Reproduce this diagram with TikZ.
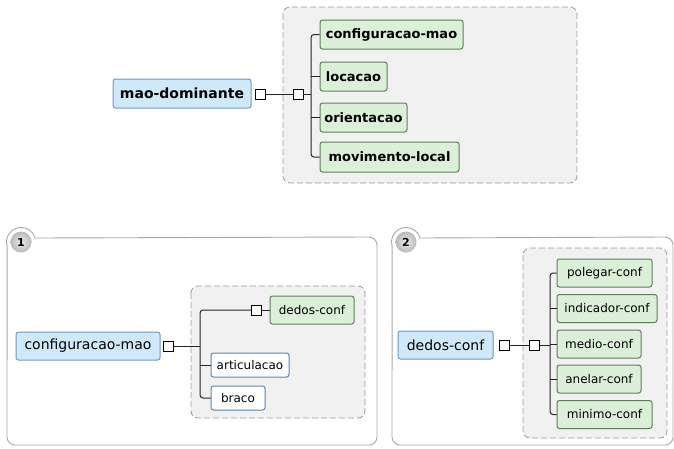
\documentclass[tikz,border=0pt]{standalone}
\usepackage{fontspec}
\setmainfont{DejaVu Sans}
\usetikzlibrary{calc}
\definecolor{rootfill}{HTML}{CFE9FA}
\definecolor{rootdraw}{HTML}{6F99BC}
\definecolor{kidfill}{HTML}{DCEFD8}
\definecolor{kiddraw}{HTML}{5F7F5B}
\definecolor{whdraw}{HTML}{5F86AD}
\definecolor{boxfill}{HTML}{F1F1F1}
\definecolor{boxdraw}{HTML}{9A9A9A}
\definecolor{paneldraw}{HTML}{A8A8A8}
\tikzset{
  base/.style={rounded corners=2.5pt, line width=1pt, inner sep=0pt, anchor=center},
  rootnode/.style={base, fill=rootfill, draw=rootdraw},
  kidnode/.style={base, fill=kidfill, draw=kiddraw},
  whnode/.style={base, fill=white, draw=whdraw},
  topfont/.style={font=\fontsize{14}{16}\selectfont\bfseries},
  topkid/.style={font=\fontsize{13}{15}\selectfont\bfseries},
  botroot/.style={font=\fontsize{14}{16}\selectfont},
  botkid/.style={font=\fontsize{12}{14}\selectfont},
  sq/.style={draw=black, fill=white, line width=0.9pt, minimum size=10pt, inner sep=0pt, anchor=center},
  conn/.style={line width=1pt, draw=black!85},
  groupbox/.style={draw=boxdraw, fill=boxfill, dashed, dash pattern=on 6pt off 3pt, rounded corners=7pt, line width=0.8pt},
  panel/.style={draw=paneldraw, line width=0.9pt},
  badge/.style={circle, minimum size=21pt, inner sep=0pt, shading=radial, inner color=gray!15, outer color=gray!55, font=\fontsize{11}{12}\selectfont\bfseries}
}
\begin{document}
\begin{tikzpicture}[x=1pt,y=1pt]
\useasboundingbox (0,0) rectangle (674,-448);

% ---------------- top ----------------
\draw[groupbox] (283,-7) rectangle (577,-183);
\node[rootnode, topfont, minimum width=138pt, minimum height=29pt] (md) at (182,-93.5) {mao-dominante};
\node[sq] (s1) at (260,-94.5) {};
\node[sq] (s2) at (298,-94.5) {};
\node[kidnode, topkid, minimum width=143pt, minimum height=29pt] (cm) at (391.5,-34.5) {configuracao-mao};
\node[kidnode, topkid, minimum width=67pt, minimum height=29pt] (loc) at (353.5,-76.5) {locacao};
\node[kidnode, topkid, minimum width=87pt, minimum height=29pt] (ori) at (363.5,-117.5) {orientacao};
\node[kidnode, topkid, minimum width=139pt, minimum height=30pt] (mov) at (389.5,-157) {movimento-local};
\coordinate (tb) at (311,-94.5);
\draw[conn] (s1) -- (s2);
\draw[conn] (s2) -- (tb);
\draw[conn, rounded corners=3pt] (cm.west) -| (tb) |- (mov.west);
\draw[conn] (loc.west) -- (loc.west -| tb);
\draw[conn] (ori.west) -- (ori.west -| tb);

% ---------------- panel 1 ----------------
\draw[panel] (35,-238) arc[start angle=16, end angle=196, radius=14.5]
  -- (7,-437) arc[start angle=180, end angle=270, radius=8] -- (369,-445)
  arc[start angle=270, end angle=360, radius=8] -- (377,-245)
  arc[start angle=0, end angle=90, radius=8] -- cycle;
\node[badge] (b1) at (21,-242) {1};
\draw[groupbox] (191,-286) rectangle (365,-418);
\node[rootnode, botroot, minimum width=144pt, minimum height=28pt] (cm2) at (88,-346) {configuracao-mao};
\node[sq] (s3) at (168,-346) {};
\node[sq] (s4) at (256.5,-310) {};
\node[kidnode, botkid, minimum width=84pt, minimum height=28pt] (dc) at (312,-310) {dedos-conf};
\node[whnode, botkid, minimum width=78pt, minimum height=24pt] (art) at (250,-365) {articulacao};
\node[whnode, botkid, minimum width=54pt, minimum height=24pt] (bra) at (238,-398) {braco};
\coordinate (lb) at (200,-346);
\draw[conn] (s3) -- (lb);
\draw[conn, rounded corners=3pt] (s4.west) -| (lb) |- (bra.west);
\draw[conn] (s4) -- (dc);
\draw[conn] (art.west) -- (art.west -| lb);

% ---------------- panel 2 ----------------
\draw[panel] (420,-238) arc[start angle=16, end angle=196, radius=14.5]
  -- (392,-437) arc[start angle=180, end angle=270, radius=8] -- (665,-445)
  arc[start angle=270, end angle=360, radius=8] -- (673,-245)
  arc[start angle=0, end angle=90, radius=8] -- cycle;
\node[badge] (b2) at (406,-242) {2};
\draw[groupbox] (523,-248) rectangle (667,-438);
\node[rootnode, botroot, minimum width=95pt, minimum height=28pt] (dc2) at (445.5,-345) {dedos-conf};
\node[sq] (s5) at (504.5,-345) {};
\node[sq] (s6) at (534.5,-345) {};
\node[kidnode, botkid, minimum width=95pt, minimum height=28pt] (pc) at (604.5,-273) {polegar-conf};
\node[kidnode, botkid, minimum width=100pt, minimum height=28pt] (ic) at (607,-308.5) {indicador-conf};
\node[kidnode, botkid, minimum width=84pt, minimum height=28pt] (mc) at (599,-344) {medio-conf};
\node[kidnode, botkid, minimum width=84pt, minimum height=28pt] (ac) at (599,-379) {anelar-conf};
\node[kidnode, botkid, minimum width=95pt, minimum height=28pt] (nc) at (604.5,-414.5) {minimo-conf};
\coordinate (rb) at (550,-345);
\draw[conn] (s5) -- (s6);
\draw[conn] (s6) -- (rb);
\draw[conn, rounded corners=3pt] (pc.west) -| (rb) |- (nc.west);
\draw[conn] (ic.west) -- (ic.west -| rb);
\draw[conn] (mc.west) -- (mc.west -| rb);
\draw[conn] (ac.west) -- (ac.west -| rb);
\end{tikzpicture}
\end{document}
